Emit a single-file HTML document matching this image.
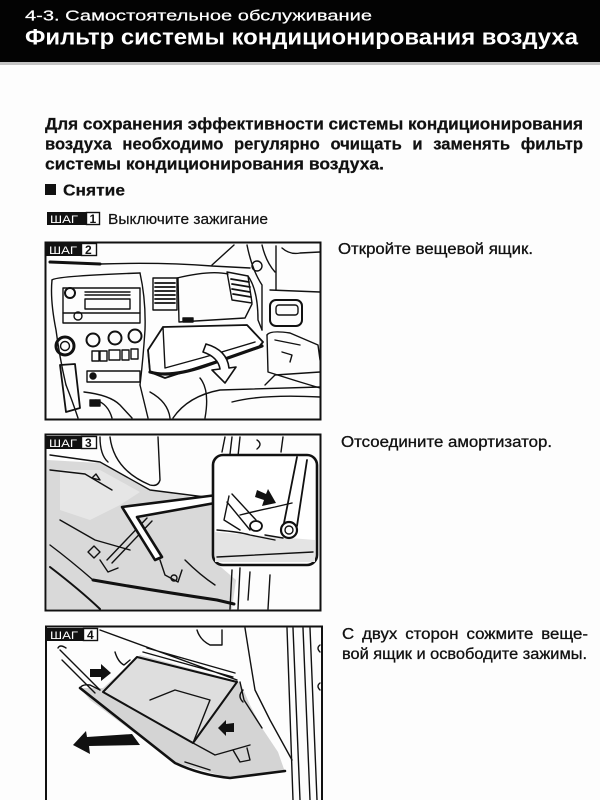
<!DOCTYPE html>
<html><head><meta charset="utf-8">
<style>
html,body{margin:0;padding:0;background:#fff;}
body{width:600px;height:800px;overflow:hidden;}
svg{display:block;}
text{font-family:"Liberation Sans","DejaVu Sans",sans-serif;}
</style></head>
<body>
<svg width="600" height="800" viewBox="0 0 600 800" xmlns="http://www.w3.org/2000/svg">
<rect x="0" y="0" width="600" height="800" fill="#fdfdfd"/>
<!-- header -->
<rect x="0" y="0" width="600" height="62" fill="#030303"/>
<rect x="0" y="62" width="600" height="3" fill="#c4c4c4"/>
<text x="25" y="20.5" font-size="15" fill="#fff" stroke="#fff" stroke-width="0.2" textLength="347" lengthAdjust="spacingAndGlyphs">4-3. Самостоятельное обслуживание</text>
<text x="25" y="44.5" font-size="22" font-weight="bold" fill="#fff" textLength="553" lengthAdjust="spacingAndGlyphs">Фильтр системы кондиционирования воздуха</text>

<!-- paragraph -->
<g font-size="16.5" font-weight="bold" fill="#111" stroke="#111" stroke-width="0.25">
<text x="45" y="129.5" textLength="538" lengthAdjust="spacingAndGlyphs">Для сохранения эффективности системы кондиционирования</text>
<text x="45" y="149.5" textLength="538" lengthAdjust="spacingAndGlyphs" word-spacing="6">воздуха необходимо регулярно очищать и заменять фильтр</text>
<text x="45" y="169.5" textLength="339" lengthAdjust="spacingAndGlyphs">системы кондиционирования воздуха.</text>
</g>
<rect x="45" y="184" width="11" height="11" fill="#111"/>
<text x="63" y="195.5" font-size="16" font-weight="bold" fill="#111" stroke="#111" stroke-width="0.2" textLength="62" lengthAdjust="spacingAndGlyphs">Снятие</text>

<!-- step 1 -->
<rect x="47" y="212" width="39" height="13" fill="#111"/>
<text x="50" y="223" font-size="11" fill="#fff" textLength="28" lengthAdjust="spacingAndGlyphs">ШАГ</text>
<rect x="86.5" y="212.5" width="13" height="12" fill="#fff" stroke="#111" stroke-width="1.4"/>
<text x="89.5" y="223" font-size="12" font-weight="bold" fill="#111">1</text>
<text x="108" y="224" font-size="14.5" fill="#111" stroke="#111" stroke-width="0.2" textLength="160" lengthAdjust="spacingAndGlyphs">Выключите зажигание</text>

<!-- right texts -->
<g font-size="15.5" fill="#111" stroke="#111" stroke-width="0.3">
<text x="338" y="254" textLength="195" lengthAdjust="spacingAndGlyphs">Откройте вещевой ящик.</text>
<text x="341" y="447" textLength="211" lengthAdjust="spacingAndGlyphs">Отсоедините амортизатор.</text>
<text x="342" y="639" textLength="246" lengthAdjust="spacingAndGlyphs" word-spacing="3">С двух сторон сожмите веще-</text>
<text x="342" y="659" textLength="245" lengthAdjust="spacingAndGlyphs">вой ящик и освободите зажимы.</text>
</g>

<!-- ================= STEP 2 ================= -->
<g stroke="#111" stroke-width="1.4" fill="none" stroke-linecap="round" stroke-linejoin="round">
 <path d="M50 262 L100 264" stroke-width="3"/>
 <path d="M100 264 Q160 262 212 266 L250 268"/>
 <path d="M212 265 L234 245"/>
 <path d="M247 245 Q252 270 262 285 L262 330"/>
 <path d="M262 245 Q266 262 275 272"/>
 <circle cx="257" cy="266" r="5"/>
 <path d="M276 246 L276 290"/>
 <path d="M282 248 Q290 255 300 253 L320 252"/>
 <path d="M270 290 L320 292"/>
 <rect x="270" y="300" width="32" height="26" rx="6" stroke-width="2"/>
 <rect x="276" y="305" width="22" height="10" rx="3"/>
 <path d="M267 335 Q270 330 290 333 L318 345 L320 360"/>
 <path d="M267 335 L268 372 L300 382 L320 388"/>
 <path d="M282 352 L292 355 L290 362"/>
 <path d="M275 340 L300 345"/>
 <!-- center stack -->
 <path d="M52 280 Q56 276 140 273"/>
 <path d="M52 280 Q50 300 56 330 Q60 360 66 385"/>
 <path d="M140 273 Q146 300 145 330 Q143 360 140 385"/>
 <rect x="63" y="288" width="77" height="35"/>
 <line x1="85" y1="292" x2="130" y2="292"/>
 <line x1="85" y1="295" x2="130" y2="295"/>
 <rect x="85" y="299" width="45" height="10"/>
 <line x1="63" y1="313" x2="140" y2="313"/>
 <circle cx="70" cy="293" r="5" stroke-width="2"/>
 <circle cx="78" cy="316" r="4"/>
 <circle cx="93" cy="340" r="6.5" stroke-width="2"/>
 <circle cx="115" cy="338" r="6.5" stroke-width="2"/>
 <circle cx="135" cy="336" r="6.5" stroke-width="2"/>
 <circle cx="65" cy="346" r="9" stroke-width="3"/>
 <circle cx="65" cy="346" r="4.5"/>
 <rect x="92" y="351" width="7" height="10"/>
 <rect x="100" y="351" width="7" height="10"/>
 <rect x="109" y="350" width="11" height="10"/>
 <rect x="122" y="350" width="7" height="10"/>
 <rect x="131" y="349" width="7" height="10"/>
 <rect x="87" y="371" width="53" height="11"/>
 <circle cx="93" cy="376" r="3" fill="#111"/>
 <path d="M66 385 Q72 400 78 418"/>
 <path d="M140 385 L148 418"/>
 <path d="M60 365 L75 364 L80 408 L66 412 Z" stroke-width="1.8"/>
 <path d="M84 392 Q110 395 120 405 L132 418"/>
 <path d="M96 400 Q108 404 112 418"/>
 <rect x="90" y="400" width="10" height="6" fill="#111"/>
 <!-- vents -->
 <rect x="153" y="278" width="24" height="32"/>
 <path d="M155 283 H175 M155 287 H175 M155 291 H175 M155 295 H175 M155 299 H175 M155 303 H175" stroke-width="1.8"/>
 <path d="M227 272 L248 276 L252 303 L232 300 Z"/>
 <path d="M231 279 L249 282 M232 284 L250 287 M232 289 L250 292 M233 294 L251 297" stroke-width="1.8"/>
 <!-- glovebox upper face -->
 <path d="M177 278 Q210 270 228 274"/>
 <path d="M178 278 L179 322 L245 318 L252 304"/>
 <rect x="183" y="318" width="10" height="4" fill="#111"/>
 <path d="M248 276 Q258 290 258 320 L262 330"/>
 <!-- open door -->
 <path d="M163 327 L247 325 L263 342 L258 348 L205 365 L165 378 L150 372 L148 350 Z" fill="#fff" stroke-width="1.8"/>
 <path d="M163 327 L165 368 L205 357 L255 342"/>
 <path d="M150 372 Q170 378 205 366 L262 346" stroke-width="3.2"/>
 <path d="M148 350 L150 372"/>
 <!-- arrow -->
 <path d="M206 344 Q227 350 229 368 L236 367 L225 383 L212 370 L220 369 Q218 357 203 352 Z" fill="#fff" stroke-width="1.6"/>
 <!-- floor/seat -->
 <path d="M173 418 Q188 396 220 390 L320 387"/>
 <path d="M232 402 Q262 394 320 397"/>
 <path d="M150 392 Q168 402 170 418"/>
 <path d="M200 378 Q210 390 205 418"/>
 <path d="M265 385 L275 375 L320 372"/>
</g>
<rect x="45.5" y="242.5" width="275" height="177" fill="none" stroke="#111" stroke-width="2"/>
<rect x="46" y="243" width="35" height="13" fill="#111"/>
<text x="49" y="254" font-size="11" fill="#fff" textLength="28" lengthAdjust="spacingAndGlyphs">ШАГ</text>
<rect x="81.5" y="243.5" width="15" height="12" fill="#fff" stroke="#111" stroke-width="1.4"/>
<text x="85" y="254" font-size="12" font-weight="bold" fill="#111">2</text>

<!-- ================= STEP 3 ================= -->
<path d="M47 460 L100 463 L150 490 L212 500 L215 562 L236 580 L232 609 L47 609 Z" fill="#d9d9d9"/>
<path d="M60 470 L100 470 L140 492 L120 505 L90 520 L60 510 Z" fill="#e6e6e6"/>
<g stroke="#111" stroke-width="1.4" fill="none" stroke-linecap="round" stroke-linejoin="round">
 <path d="M110 437 Q114 470 150 485 Q158 487 160 480 L158 437"/>
 <path d="M100 437 Q100 455 108 462"/>
 <path d="M50 455 L100 462 L150 490 L205 497"/>
 <path d="M50 470 L85 474 L112 490"/>
 <path d="M92 478 L96 474 L100 480 Z"/>
 <path d="M225 437 L222 452 M232 437 L230 454 M240 437 L238 456 M283 437 L281 452"/>
 <path d="M257 440 q6 4 0 9"/>
 <path d="M232 570 L230 609 M240 568 L238 609 M270 575 L268 609 M250 572 L248 600"/>
 <path d="M93 580 Q150 590 217 600 L234 604" stroke-width="3"/>
 <path d="M50 567 Q80 590 100 609" stroke-width="2"/>
 <path d="M50 545 Q70 560 93 580"/>
 <path d="M60 520 L95 540 L130 550"/>
 <path d="M147 518 L107 560 M152 521 L112 563"/>
 <path d="M100 560 L108 572 L118 568"/>
 <path d="M88 552 L94 546 L100 552 L94 558 Z"/>
 <path d="M160 560 L165 575 L178 582 L182 570"/>
 <circle cx="174" cy="578" r="3"/>
 <path d="M185 560 Q200 575 215 585"/>
 <path d="M217 495 L122 507 L155 560 L162 557 L137 517 L215 503" fill="#fff" stroke-width="2.6"/>
</g>
<!-- inset -->
<rect x="213" y="455" width="104" height="110" rx="10" fill="#fff" stroke="#111" stroke-width="2.6"/>
<path d="M215 532 L315 540 L315 562 L215 562 Z" fill="#e4e4e4"/>
<g stroke="#111" stroke-width="1.4" fill="none" stroke-linecap="round" stroke-linejoin="round">
 <path d="M217 557 L313 552"/>
 <path d="M217 530 Q240 532 250 535 L275 540"/>
 <path d="M297 457 L283 528 M307 460 L297 526" stroke-width="1.8"/>
 <circle cx="289" cy="530" r="8" stroke-width="2.2" fill="#fff"/>
 <circle cx="289" cy="530" r="4"/>
 <path d="M232 494 L256 520 M227 502 L250 530"/>
 <path d="M229 496 L224 520 L240 530"/>
 <ellipse cx="256" cy="526" rx="6" ry="5" stroke-width="1.8"/>
 <path d="M240 515 Q260 510 275 507 L292 503"/>
 <path d="M265 535 L283 538"/>
</g>
<polygon points="257,490 266,494 268,489 276,503 262,506 264,500 255,497" fill="#111"/>
<rect x="45.5" y="434.5" width="275" height="176" fill="none" stroke="#111" stroke-width="2"/>
<rect x="46" y="436" width="35" height="13" fill="#111"/>
<text x="49" y="447" font-size="11" fill="#fff" textLength="28" lengthAdjust="spacingAndGlyphs">ШАГ</text>
<rect x="81.5" y="436.5" width="15" height="12" fill="#fff" stroke="#111" stroke-width="1.4"/>
<text x="85" y="447" font-size="12" font-weight="bold" fill="#111">3</text>

<!-- ================= STEP 4 ================= -->
<polygon points="80,688 90,700 175,763 230,778 285,772 278,752 262,728 250,705 240,682 215,675 140,655 103,688" fill="#d4d4d4"/>
<polygon points="103,692 137,657 237,682 193,743" fill="#dedede"/>
<g stroke="#111" stroke-width="1.4" fill="none" stroke-linecap="round" stroke-linejoin="round">
 <path d="M80 688 L175 763 Q200 775 230 778 L285 771" stroke-width="2.6"/>
 <path d="M80 688 Q82 684 90 685 L100 690"/>
 <path d="M103 692 L137 657 L237 682 L193 743 Z" stroke-width="2"/>
 <path d="M193 743 L215 755 L250 745"/>
 <path d="M150 700 L175 690 L210 700 L193 743"/>
 <path d="M60 650 L100 690 M62 660 L95 693 M58 648 Q60 644 66 648"/>
 <path d="M100 630 L237 680 M143 652 L233 677 M147 648 L235 673"/>
 <path d="M197 630 Q200 640 210 645 L222 645 L222 630"/>
 <path d="M115 652 Q118 662 124 665 L130 660"/>
 <path d="M287 628 L293 800 M293 628 L300 800 M303 628 L310 800 M310 628 L317 800"/>
 <path d="M245 628 Q250 660 255 690 L270 720 L292 760"/>
 <path d="M240 682 L244 700 L262 728"/>
 <path d="M320 645 q-4 3 0 7 M320 683 q-4 3 0 7"/>
 <path d="M233 750 L240 762 L250 760 L247 748"/>
 <path d="M185 762 L210 770"/>
 <path d="M243 690 q-6 6 0 12"/>
</g>
<polygon points="90,669 101,669 101,664 111,673 101,681 101,677 90,677" fill="#111"/>
<polygon points="73,745 86,731 87,737 132,734 140,745 89,746 90,754" fill="#111"/>
<polygon points="218,728 226,720 226,724 234,723 234,732 226,732 226,736" fill="#111"/>
<path d="M46 800 L46 626.5 L322 626.5 L322 800" fill="none" stroke="#111" stroke-width="2"/>
<rect x="47" y="628" width="36" height="13" fill="#111"/>
<text x="50" y="639" font-size="11" fill="#fff" textLength="28" lengthAdjust="spacingAndGlyphs">ШАГ</text>
<rect x="83.5" y="628.5" width="14" height="12" fill="#fff" stroke="#111" stroke-width="1.4"/>
<text x="87" y="639" font-size="12" font-weight="bold" fill="#111">4</text>
</svg>
</body></html>
